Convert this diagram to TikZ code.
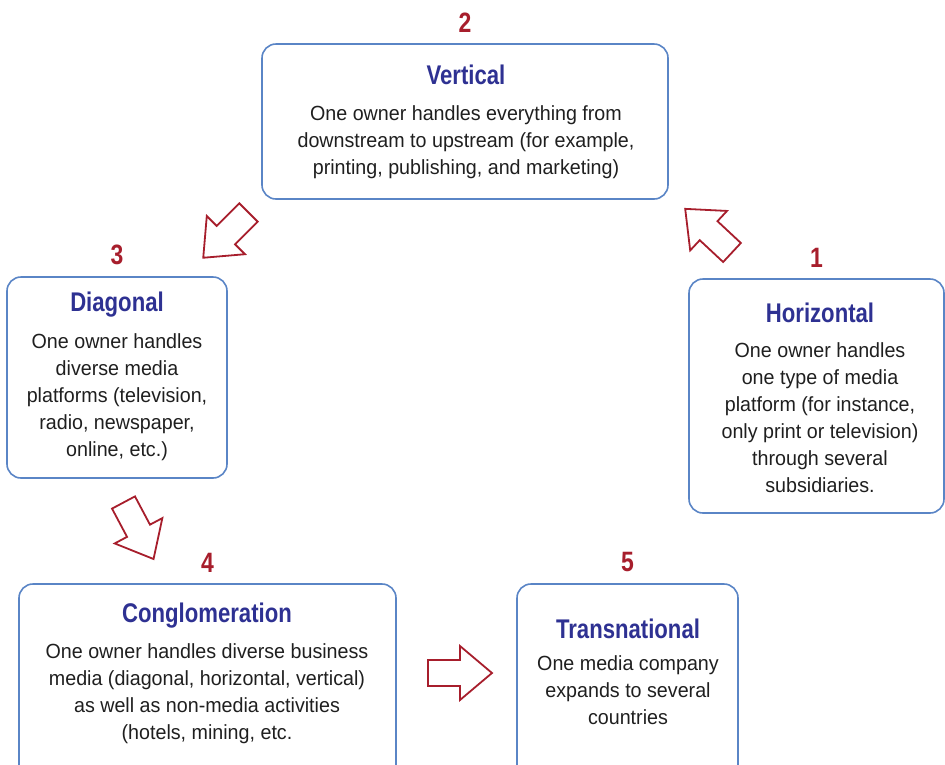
\documentclass[tikz,border=0pt]{standalone}
\usepackage{fontspec}
\setmainfont{Liberation Sans}
\newfontfamily\bodyfont{Liberation Sans}[FakeStretch=0.96]
\newfontfamily\headfont{Liberation Sans}[FakeStretch=0.82]
\usetikzlibrary{positioning}
\definecolor{numred}{HTML}{A71E2C}
\definecolor{headblue}{HTML}{2E3192}
\definecolor{boxblue}{HTML}{5A85C6}
\tikzset{
  stage/.style={draw=boxblue, line width=1.6pt, rounded corners=14pt},
  head/.style={font=\headfont\bfseries\fontsize{27}{30}\selectfont, text=headblue, inner sep=0pt},
  body/.style={font=\bodyfont\fontsize{20.5}{27}\selectfont, align=center, inner sep=0pt, text=black!88},
  num/.style={font=\headfont\bfseries\fontsize{28}{30}\selectfont, text=numred, inner sep=0pt},
  blockarrow/.pic={\draw[numred, line width=1.8pt, fill=white, line join=miter]
    (0,-13)--(32,-13)--(32,-27)--(64,0)--(32,27)--(32,13)--(0,13)--cycle;}
}
\begin{document}
\begin{tikzpicture}[x=1pt, y=-1pt]
  \useasboundingbox (0,0) rectangle (945,764);
  \clip (0,0) rectangle (945,764);

  % the five boxes
  \node[stage, minimum width=406pt, minimum height=155pt] (vert) at (465,121.5) {};
  \node[stage, minimum width=220pt, minimum height=201pt] (diag) at (117,377.5) {};
  \node[stage, minimum width=255pt, minimum height=234pt] (horiz) at (816.5,396) {};
  \node[stage, minimum width=377pt, minimum height=196pt] (cong) at (207.5,682) {};
  \node[stage, minimum width=221pt, minimum height=196pt] (trans) at (627.5,682) {};

  % step numbers
  \node[num, above=11pt of horiz.north] (n1) {1};
  \node[num, above=11pt of vert.north] (n2) {2};
  \node[num, above=11pt of diag.north] (n3) {3};
  \node[num, above=11pt of cong.north] (n4) {4};
  \node[num, above=11pt of trans.north] (n5) {5};

  % titles and texts
  \node[head] (vert-t) at (466,75) {Vertical};
  \node[body] (vert-b) at (466,142) {One owner handles everything from\\downstream to upstream (for example,\\printing, publishing, and marketing)};
  \node[head] (diag-t) at (117,305) {Diagonal};
  \node[body] (diag-b) at (117,397.5) {One owner handles\\diverse media\\platforms (television,\\radio, newspaper,\\online, etc.)};
  \node[head] (horiz-t) at (820,313) {Horizontal};
  \node[body] (horiz-b) at (820,418) {One owner handles\\one type of media\\platform (for instance,\\only print or television)\\through several\\subsidiaries.};
  \node[head] (cong-t) at (207,616) {Conglomeration};
  \node[body] (cong-b) at (207,693.5) {One owner handles diverse business\\media (diagonal, horizontal, vertical)\\as well as non-media activities\\(hotels, mining, etc.};
  \node[head] (trans-t) at (628,629) {Transnational};
  \node[body] (trans-b) at (628,690.5) {One media company\\expands to several\\countries};

  % block arrows
  \pic[rotate=137] at (732,252.5) {blockarrow};
  \pic[rotate=-135] at (248.5,212.5) {blockarrow};
  \pic[rotate=-62] at (123.5,502.5) {blockarrow};
  \pic at (428,673) {blockarrow};
\end{tikzpicture}
\end{document}
